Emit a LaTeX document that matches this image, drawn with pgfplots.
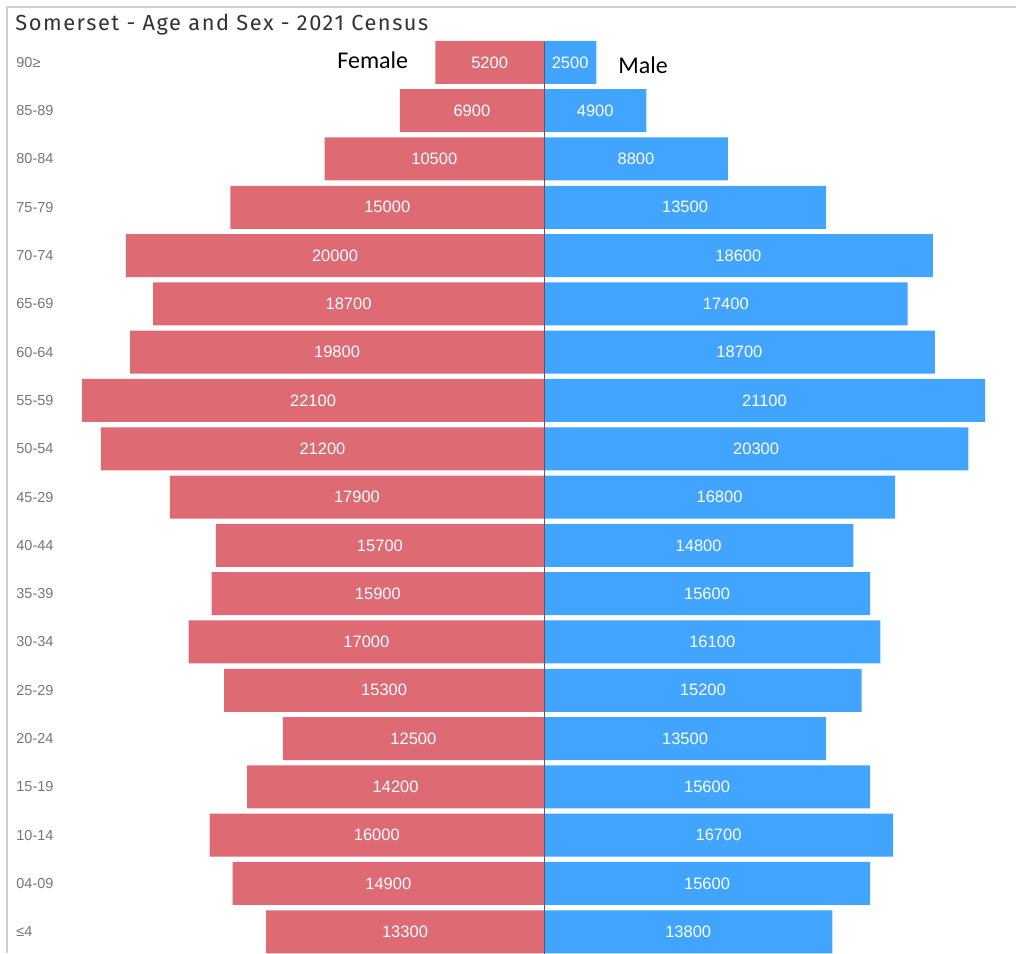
\documentclass[border=0pt]{standalone}
\usepackage{pgfplots}
\pgfplotsset{compat=1.18}
\usepackage{pgfplotstable}
\usepackage{fontspec}
\setmainfont{Liberation Sans}
\newfontfamily\titlefont[LetterSpace=7]{Fira Sans}
\newfontfamily\calibri{Carlito}
\definecolor{fem}{HTML}{DE6A73}
\definecolor{mal}{HTML}{41A5FF}
\definecolor{bord}{HTML}{D0D0D0}
\definecolor{ticklab}{HTML}{777777}
\definecolor{ttl}{HTML}{333333}
\definecolor{midline}{HTML}{5A5A5A}

\pgfplotstableread{
i f m
0 13300 13800
1 14900 15600
2 16000 16700
3 14200 15600
4 12500 13500
5 15300 15200
6 17000 16100
7 15900 15600
8 15700 14800
9 17900 16800
10 21200 20300
11 22100 21100
12 19800 18700
13 18700 17400
14 20000 18600
15 15000 13500
16 10500 8800
17 6900 4900
18 5200 2500
}\data

\begin{document}
\begin{tikzpicture}
\path[use as bounding box] (0,0) rectangle (508pt,-476.5pt);
\fill[white] (0,0) rectangle (508pt,-476.5pt);
\draw[bord, line width=1pt] (3.5pt,-476.5pt) -- (3.5pt,-3.25pt) -- (508pt,-3.25pt);
\node[anchor=base west, inner sep=0, text=ttl, font=\titlefont\fontsize{10.9}{13}\selectfont] at (7.5pt,-15.5pt) {Somerset - Age and Sex - 2021 Census};
\begin{axis}[
 at={(8pt,-477.95pt)}, anchor=south west,
 width=500pt, height=458.85pt, scale only axis,
 xmin=-25263, xmax=22584, ymin=-0.5, ymax=18.5,
 axis line style={draw=none}, tick style={draw=none},
 xtick=\empty, ytick={0,...,18},
 yticklabels={≤4,04-09,10-14,15-19,20-24,25-29,30-34,35-39,40-44,45-29,50-54,55-59,60-64,65-69,70-74,75-79,80-84,85-89,90≥},
 yticklabel style={anchor=west, inner sep=0pt, text=ticklab, font=\fontsize{7.25}{8}\selectfont},
]
\addplot[xbar, bar shift=0pt, bar width=21.5pt, fill=fem, draw=none] table[x expr=-\thisrow{f}, y=i] {\data};
\addplot[xbar, bar shift=0pt, bar width=21.5pt, fill=mal, draw=none] table[x=m, y=i] {\data};
\addplot[midline, line width=0.5pt, mark=none] coordinates {(0,-0.6) (0,18.42)};
\addplot[only marks, mark=none,
  point meta=explicit symbolic, nodes near coords,
  every node near coord/.append style={anchor=center, inner sep=0pt, text=white, font=\fontsize{8.25}{10}\selectfont}]
  table[x expr=-\thisrow{f}/2, y=i, meta=f] {\data};
\addplot[only marks, mark=none,
  point meta=explicit symbolic, nodes near coords,
  every node near coord/.append style={anchor=center, inner sep=0pt, text=white, font=\fontsize{8.25}{10}\selectfont}]
  table[x expr=\thisrow{m}/2, y=i, meta=m] {\data};
\end{axis}
\node[anchor=base west, inner sep=0, font=\calibri\fontsize{12}{14}\selectfont] at (168.5pt,-34pt) {Female};
\node[anchor=base west, inner sep=0, font=\calibri\fontsize{12}{14}\selectfont] at (309pt,-36.5pt) {Male};
\end{tikzpicture}
\end{document}
